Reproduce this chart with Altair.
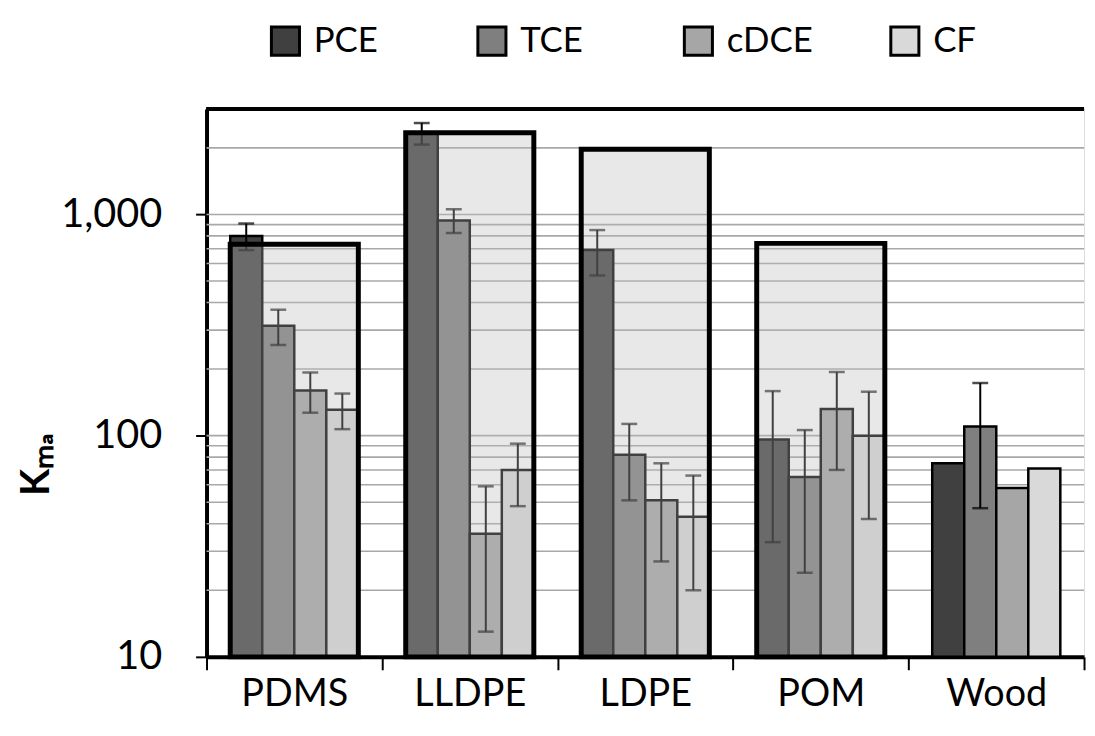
import altair as alt
import pandas as pd

materials = ["PDMS", "LLDPE", "LDPE", "POM", "Wood"]
compounds = ["PCE", "TCE", "cDCE", "CF"]

pce = [800, 2330, 690, 96, 75]
pce_err = [110, 260, 160, 63, None]
tce = [314, 940, 82, 65, 110]
tce_err = [57, 115, 31, 41, 63]
cdce = [160, 36, 51, 132, 58]
cdce_err = [33, 23, 24, 62, None]
cf = [131, 70, 43, 100, 71]
cf_err = [24, 22, 23, 58, None]

box_materials = ["PDMS", "LLDPE", "LDPE", "POM"]
box_values = [733, 2340, 1970, 740]

grid_values = [20, 30, 40, 50, 60, 70, 80, 90, 100,
               200, 300, 400, 500, 600, 700, 800, 900, 1000, 2000]
axis_values = [10, 100, 1000]
colors = ["#404040", "#7f7f7f", "#a6a6a6", "#d9d9d9"]

rows = []
for comp, vals, errs in [("PCE", pce, pce_err), ("TCE", tce, tce_err),
                         ("cDCE", cdce, cdce_err), ("CF", cf, cf_err)]:
    for m, v, e in zip(materials, vals, errs):
        rows.append({"material": m, "compound": comp, "value": v,
                     "lo": (v - e) if e is not None else None,
                     "hi": (v + e) if e is not None else None})
df = pd.DataFrame(rows)
err_df = df.dropna(subset=["lo"])
box_df = pd.DataFrame({"material": box_materials, "box": box_values})
grid_df = pd.DataFrame({"g": grid_values})

W, H = 884, 552
FONT = "Lato"

x_enc = alt.X("material:N", sort=materials,
              scale=alt.Scale(paddingInner=0, paddingOuter=0),
              axis=alt.Axis(title=None, tickBand="extent", labelFont=FONT,
                            labelFontSize=38, labelColor="black", labelAngle=0,
                            tickColor="black", tickSize=13, tickWidth=2,
                            domainColor="black", domainWidth=4,
                            labelPadding=6, grid=False))
xo_enc = alt.XOffset("compound:N", sort=compounds,
                     scale=alt.Scale(paddingInner=0, paddingOuter=0.74))
y_scale = alt.Scale(type="log", domain=[10, 3000], nice=False)
y_axis = alt.Axis(values=axis_values, format=",d", title="Kₘₐ",
                  titleFont=FONT, titleFontSize=40, titleFontWeight="bold",
                  titleColor="black", titleAngle=270, titleAlign="center",
                  titleBaseline="alphabetic", titleX=-159, titleY=358,
                  labelFont=FONT, labelFontSize=40, labelColor="black",
                  labelPadding=34, tickColor="black", tickSize=11, tickWidth=2,
                  domainColor="black", domainWidth=4, grid=False)

grid = alt.Chart(grid_df).mark_rule(color="#a8a8a8", strokeWidth=1.6).encode(
    y=alt.Y("g:Q", scale=y_scale, axis=y_axis)
)

bars = alt.Chart(df).mark_bar(stroke="black", strokeWidth=2.5).encode(
    x=x_enc,
    xOffset=xo_enc,
    y=alt.Y("value:Q", scale=y_scale, axis=y_axis),
    y2=alt.datum(10),
    color=alt.Color("compound:N", sort=compounds,
                    scale=alt.Scale(domain=compounds, range=colors),
                    legend=alt.Legend(title=None, orient="none", direction="horizontal",
                                      legendX=62, legendY=-86, columns=4,
                                      gridAlign="all", columnPadding=72,
                                      symbolType="square", symbolSize=800,
                                      symbolStrokeColor="black", symbolStrokeWidth=3,
                                      symbolOpacity=1, labelFont=FONT,
                                      labelFontSize=35, labelColor="black",
                                      labelOffset=11, padding=0)),
)

err_rule = alt.Chart(err_df).mark_rule(color="black", strokeWidth=2).encode(
    x=x_enc, xOffset=xo_enc,
    y=alt.Y("lo:Q", scale=y_scale), y2="hi:Q"
)
err_lo = alt.Chart(err_df).mark_tick(color="black", thickness=2.5, size=16).encode(
    x=x_enc, xOffset=xo_enc, y=alt.Y("lo:Q", scale=y_scale)
)
err_hi = alt.Chart(err_df).mark_tick(color="black", thickness=2.5, size=16).encode(
    x=x_enc, xOffset=xo_enc, y=alt.Y("hi:Q", scale=y_scale)
)

boxes = alt.Chart(box_df).mark_bar(
    width=alt.RelativeBandSize(0.73), fill="#bcbcbc", fillOpacity=0.34,
    stroke="black", strokeWidth=5
).encode(
    x=x_enc,
    y=alt.Y("box:Q", scale=y_scale),
    y2=alt.datum(10),
)

top_line = alt.Chart(box_df).mark_rule(color="black", strokeWidth=4).encode(
    x=alt.value(0), x2=alt.value(W), y=alt.value(0)
)

chart = alt.layer(grid, bars, err_rule, err_lo, err_hi, boxes, top_line).properties(
    width=W, height=H,
    autosize=alt.AutoSizeParams(type="none"),
    padding={"left": 200, "top": 99, "right": 3, "bottom": 69},
).configure_view(stroke=None).configure(background="white")

chart.save("out.html", embed_options={"renderer": "svg", "actions": False})
